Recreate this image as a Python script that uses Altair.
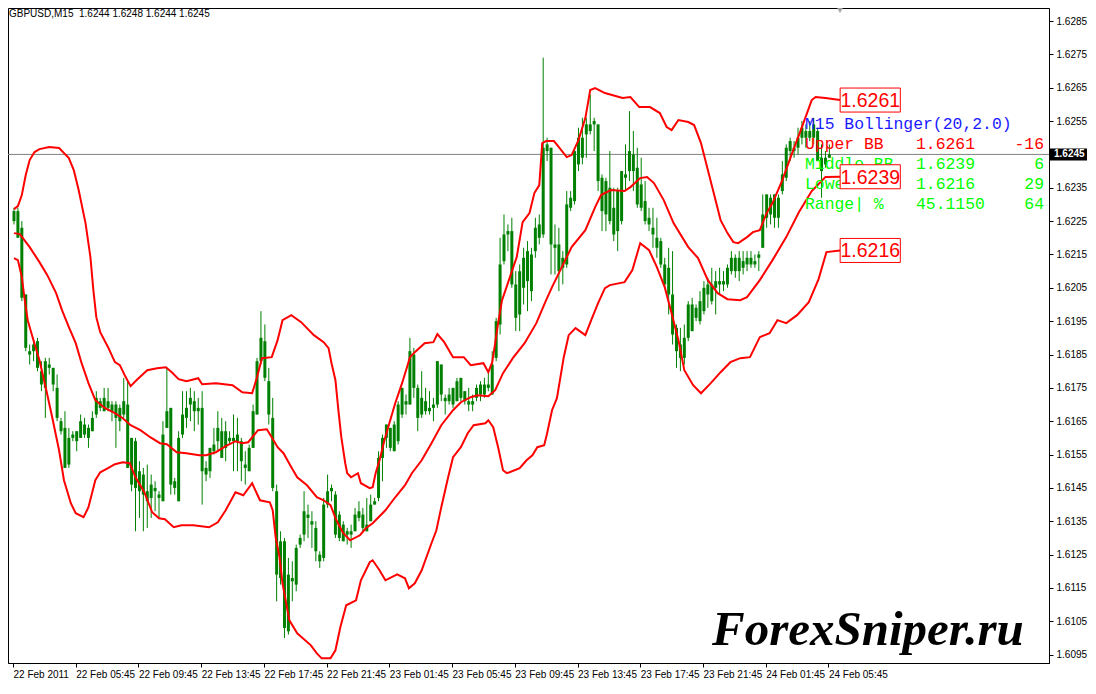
import altair as alt
import pandas as pd

# ---------------- data (prices) ----------------
open_ = [
1.6228,1.6228,1.6223,1.6203,1.6185,1.6188,1.6189,1.6176,1.6175,1.6182,
1.6181,1.6175,1.6165,1.6163,1.6152,1.6160,1.6159,1.6160,1.6164,1.6160,
1.6162,1.6167,1.6169,1.6172,1.6171,1.6170,1.6170,1.6165,1.6171,1.6170,
1.6160,1.6159,1.6150,1.6149,1.6141,1.6142,1.6145,1.6142,1.6141,1.6168,
1.6169,1.6145,1.6141,1.6161,1.6166,1.6172,1.6171,1.6169,1.6169,1.6149,
1.6150,1.6156,1.6163,1.6154,1.6157,1.6159,1.6159,1.6161,1.6159,1.6151,
1.6150,1.6157,1.6167,1.6190,1.6189,1.6177,1.6166,1.6144,1.6129,1.6129,
1.6102,1.6117,1.6116,1.6128,1.6131,1.6137,1.6135,1.6133,1.6123,1.6124,
1.6140,1.6145,1.6143,1.6137,1.6129,1.6131,1.6131,1.6132,1.6138,1.6137,
1.6132,1.6135,1.6140,1.6142,1.6154,1.6164,1.6163,1.6156,1.6159,1.6175,
1.6170,1.6170,1.6185,1.6175,1.6172,1.6171,1.6168,1.6169,1.6170,1.6182,
1.6171,1.6171,1.6170,1.6171,1.6178,1.6174,1.6171,1.6170,1.6172,1.6173,
1.6173,1.6175,1.6173,1.6184,1.6194,1.6213,1.6222,1.6222,1.6196,1.6197,
1.6205,1.6216,1.6204,1.6216,1.6220,1.6221,1.6248,1.6247,1.6218,1.6218,
1.6211,1.6212,1.6229,1.6231,1.6242,1.6244,1.6251,1.6252,1.6255,1.6254,
1.6238,1.6237,1.6235,1.6221,1.6222,1.6225,1.6238,1.6246,1.6245,1.6241,
1.6236,1.6231,1.6226,1.6223,1.6220,1.6219,1.6212,1.6211,1.6203,1.6193,
1.6184,1.6184,1.6190,1.6192,1.6196,1.6195,1.6198,1.6206,1.6201,1.6205,
1.6206,1.6206,1.6206,1.6210,1.6210,1.6214,1.6211,1.6212,1.6214,1.6212,
1.6214,1.6217,1.6226,1.6232,1.6233,1.6226,1.6234,1.6238,1.6249,1.6246,
1.6247,1.6253,1.6252,1.6250,1.6254,1.6252,1.6240,1.6242,1.6244]

high = [
1.6229,1.6229,1.6225,1.6203,1.6188,1.6190,1.6190,1.6183,1.6184,1.6184,
1.6181,1.6179,1.6166,1.6168,1.6163,1.6162,1.6162,1.6167,1.6166,1.6164,
1.6168,1.6174,1.6172,1.6175,1.6175,1.6171,1.6171,1.6170,1.6178,1.6177,
1.6160,1.6160,1.6153,1.6151,1.6152,1.6149,1.6147,1.6144,1.6165,1.6181,
1.6169,1.6148,1.6162,1.6174,1.6174,1.6175,1.6174,1.6172,1.6174,1.6153,
1.6157,1.6163,1.6168,1.6166,1.6165,1.6162,1.6167,1.6166,1.6160,1.6156,
1.6158,1.6170,1.6184,1.6198,1.6194,1.6181,1.6172,1.6146,1.6132,1.6130,
1.6124,1.6123,1.6128,1.6131,1.6144,1.6140,1.6138,1.6135,1.6126,1.6142,
1.6149,1.6146,1.6144,1.6138,1.6135,1.6133,1.6134,1.6139,1.6141,1.6139,
1.6142,1.6143,1.6142,1.6156,1.6161,1.6164,1.6163,1.6165,1.6171,1.6175,
1.6173,1.6190,1.6187,1.6176,1.6180,1.6175,1.6174,1.6172,1.6183,1.6182,
1.6173,1.6175,1.6175,1.6178,1.6178,1.6174,1.6175,1.6173,1.6176,1.6177,
1.6178,1.6180,1.6186,1.6196,1.6220,1.6227,1.6224,1.6226,1.6210,1.6212,
1.6217,1.6219,1.6217,1.6226,1.6227,1.6274,1.6250,1.6247,1.6224,1.6223,
1.6216,1.6234,1.6234,1.6247,1.6253,1.6256,1.6256,1.6263,1.6256,1.6254,
1.6239,1.6238,1.6246,1.6235,1.6235,1.6240,1.6248,1.6258,1.6252,1.6247,
1.6244,1.6237,1.6229,1.6229,1.6226,1.6220,1.6214,1.6217,1.6216,1.6194,
1.6193,1.6194,1.6201,1.6202,1.6200,1.6204,1.6207,1.6208,1.6211,1.6210,
1.6211,1.6210,1.6212,1.6216,1.6215,1.6216,1.6216,1.6216,1.6216,1.6215,
1.6216,1.6233,1.6233,1.6233,1.6233,1.6233,1.6243,1.6248,1.6250,1.6249,
1.6253,1.6255,1.6254,1.6255,1.6256,1.6253,1.6248,1.6246,1.6248]

low = [
1.6224,1.6220,1.6201,1.6186,1.6182,1.6183,1.6180,1.6174,1.6166,1.6179,
1.6174,1.6165,1.6161,1.6151,1.6151,1.6159,1.6156,1.6160,1.6160,1.6157,
1.6162,1.6166,1.6168,1.6168,1.6168,1.6165,1.6157,1.6162,1.6166,1.6151,
1.6144,1.6132,1.6136,1.6132,1.6133,1.6136,1.6138,1.6136,1.6141,1.6163,
1.6143,1.6143,1.6141,1.6160,1.6163,1.6165,1.6162,1.6164,1.6140,1.6147,
1.6148,1.6155,1.6156,1.6154,1.6153,1.6158,1.6150,1.6150,1.6147,1.6146,
1.6150,1.6157,1.6167,1.6182,1.6177,1.6164,1.6144,1.6111,1.6116,1.6100,
1.6101,1.6111,1.6114,1.6127,1.6129,1.6130,1.6127,1.6123,1.6121,1.6123,
1.6139,1.6141,1.6130,1.6129,1.6129,1.6128,1.6127,1.6132,1.6135,1.6132,
1.6132,1.6135,1.6140,1.6141,1.6147,1.6157,1.6156,1.6156,1.6158,1.6166,
1.6167,1.6170,1.6172,1.6162,1.6166,1.6167,1.6167,1.6165,1.6169,1.6171,
1.6167,1.6170,1.6169,1.6171,1.6171,1.6170,1.6168,1.6168,1.6171,1.6171,
1.6172,1.6174,1.6173,1.6183,1.6191,1.6212,1.6216,1.6205,1.6192,1.6192,
1.6200,1.6198,1.6201,1.6214,1.6218,1.6220,1.6243,1.6209,1.6209,1.6204,
1.6206,1.6211,1.6228,1.6230,1.6240,1.6242,1.6244,1.6251,1.6246,1.6234,
1.6222,1.6222,1.6224,1.6219,1.6216,1.6224,1.6234,1.6237,1.6234,1.6229,
1.6228,1.6224,1.6222,1.6217,1.6214,1.6211,1.6205,1.6197,1.6188,1.6181,
1.6180,1.6182,1.6189,1.6192,1.6195,1.6194,1.6197,1.6199,1.6200,1.6197,
1.6203,1.6204,1.6205,1.6209,1.6208,1.6207,1.6209,1.6210,1.6211,1.6211,
1.6210,1.6217,1.6223,1.6224,1.6223,1.6223,1.6233,1.6237,1.6243,1.6244,
1.6245,1.6248,1.6247,1.6249,1.6248,1.6243,1.6232,1.6241,1.6244]

close = [
1.6225,1.6220,1.6202,1.6187,1.6186,1.6186,1.6181,1.6180,1.6183,1.6181,
1.6176,1.6166,1.6162,1.6151,1.6160,1.6161,1.6162,1.6165,1.6161,1.6163,
1.6166,1.6172,1.6171,1.6168,1.6169,1.6168,1.6166,1.6169,1.6167,1.6151,
1.6146,1.6145,1.6144,1.6143,1.6144,1.6146,1.6144,1.6143,1.6161,1.6163,
1.6146,1.6147,1.6160,1.6167,1.6169,1.6170,1.6168,1.6168,1.6150,1.6151,
1.6157,1.6158,1.6159,1.6162,1.6162,1.6160,1.6160,1.6159,1.6153,1.6152,
1.6157,1.6168,1.6183,1.6183,1.6178,1.6167,1.6145,1.6119,1.6118,1.6103,
1.6119,1.6118,1.6127,1.6130,1.6138,1.6136,1.6134,1.6126,1.6125,1.6140,
1.6144,1.6144,1.6131,1.6130,1.6134,1.6132,1.6132,1.6137,1.6136,1.6133,
1.6134,1.6140,1.6141,1.6154,1.6160,1.6160,1.6157,1.6164,1.6170,1.6167,
1.6171,1.6186,1.6175,1.6166,1.6167,1.6168,1.6169,1.6170,1.6183,1.6173,
1.6172,1.6173,1.6175,1.6177,1.6172,1.6171,1.6170,1.6171,1.6175,1.6176,
1.6176,1.6176,1.6182,1.6195,1.6212,1.6221,1.6221,1.6206,1.6206,1.6210,
1.6214,1.6207,1.6215,1.6223,1.6224,1.6247,1.6246,1.6218,1.6217,1.6210,
1.6214,1.6230,1.6232,1.6246,1.6250,1.6250,1.6254,1.6254,1.6254,1.6237,
1.6228,1.6227,1.6225,1.6229,1.6234,1.6240,1.6239,1.6240,1.6240,1.6230,
1.6229,1.6225,1.6224,1.6221,1.6217,1.6212,1.6206,1.6203,1.6191,1.6186,
1.6188,1.6190,1.6200,1.6200,1.6199,1.6201,1.6205,1.6203,1.6206,1.6207,
1.6207,1.6207,1.6211,1.6214,1.6214,1.6210,1.6213,1.6214,1.6212,1.6213,
1.6215,1.6227,1.6233,1.6227,1.6226,1.6232,1.6239,1.6247,1.6246,1.6247,
1.6250,1.6250,1.6250,1.6252,1.6250,1.6243,1.6244,1.6244,1.6245]

# Bollinger bands (bar index, price)
upper_bar = [0,1,2,3,4,5.25,6.5,9,11.5,14,15.25,16.5,18.25,19.5,20.25,21,22,24,25.75,27,
    28.25,29.75,31.5,34,36.5,38.75,40.25,42,44,47,48,51.5,55.75,58.25,60.75,62,63.25,65.75,67.25,68.5,
    70.75,73.25,76.5,79,80.25,81,82,82.75,83.5,84.5,85,86,87.75,88.5,90.75,91.5,92.25,93.25,94.5,95.75,
    97.25,99,100.25,101,102.25,104.75,107,108,109.75,112,114.75,116.5,119.75,121,122,122.75,123.5,124.5,128.25,129.75,
    131.5,132.75,134,134.75,135.75,137.75,139,141,142.25,144,145.75,147,148.25,150.75,155.25,157.25,159.5,162.25,164.75,166.5,
    167.75,169.5,172,173.5,175.25,177,178.5,180.25,182,183.5,184.75,187,188.5,190.25,192,193.5,196,198.5,201,203.5,
    204.5,207,210.75]
upper_val = [1.62286,1.62295,1.62328,1.62388,1.62433,1.62457,1.62466,1.62472,1.62469,1.62439,1.62403,1.62343,1.62244,1.62142,1.62043,1.61962,1.61917,1.61872,1.61827,1.61818,
    1.61788,1.61755,1.61776,1.61803,1.61809,1.61812,1.61797,1.61776,1.61770,1.61779,1.61761,1.61764,1.61758,1.61737,1.61734,1.61782,1.61839,1.61842,1.61893,1.61953,
    1.61968,1.61947,1.61908,1.61887,1.61869,1.61824,1.61773,1.61683,1.61602,1.61524,1.61494,1.61482,1.61494,1.61464,1.61449,1.61452,1.61494,1.61533,1.61593,1.61644,
    1.61704,1.61764,1.61812,1.61842,1.61857,1.61884,1.61887,1.61911,1.61887,1.61842,1.61842,1.61818,1.61824,1.61797,1.61827,1.61884,1.61944,1.62013,1.62142,1.62247,
    1.62274,1.62334,1.62358,1.62484,1.62490,1.62490,1.62472,1.62442,1.62448,1.62493,1.62559,1.62643,1.62649,1.62634,1.62619,1.62622,1.62592,1.62592,1.62574,1.62532,
    1.62523,1.62553,1.62547,1.62538,1.62484,1.62403,1.62334,1.62253,1.62214,1.62187,1.62184,1.62202,1.62217,1.62223,1.62274,1.62304,1.62373,1.62454,1.62532,1.62613,
    1.62622,1.62619,1.62613]

middle_bar = [0,1.5,4,6.5,8.5,10.75,12.25,14,15.75,17.25,19,20.75,23.25,25.75,27.75,29.75,32.25,34.75,37.25,39,
    41.5,44,47.25,49,51.5,54,56.5,58.25,59.75,62.25,64.5,65.75,67.25,68.75,70.75,72.25,74.75,77.25,79,80.75,
    82.25,84,85.75,88.25,89.75,91.5,94.75,97.25,99.75,101.5,104,106.5,109,112,114,116.5,118.25,121,122.75,124.75,
    127.25,130.25,133.25,135.75,137.25,139.75,142.25,145.75,148.25,149.75,152.25,155.75,157.25,159.75,161.5,163.25,165.75,168.25,172,174.5,
    177,179.5,182,185.25,187,190.25,193.5,197,200.25,203.5,207,210.75]
middle_val = [1.62214,1.62211,1.62172,1.62127,1.62088,1.62034,1.61983,1.61932,1.61884,1.61824,1.61764,1.61713,1.61689,1.61674,1.61659,1.61638,1.61623,1.61602,1.61584,1.61581,
    1.61557,1.61554,1.61548,1.61548,1.61557,1.61575,1.61590,1.61584,1.61587,1.61623,1.61626,1.61602,1.61572,1.61554,1.61512,1.61482,1.61458,1.61422,1.61413,1.61398,
    1.61353,1.61314,1.61293,1.61308,1.61329,1.61344,1.61383,1.61422,1.61458,1.61494,1.61533,1.61584,1.61638,1.61683,1.61707,1.61722,1.61728,1.61725,1.61743,1.61794,
    1.61839,1.61884,1.61944,1.62013,1.62052,1.62112,1.62172,1.62223,1.62292,1.62328,1.62343,1.62340,1.62352,1.62379,1.62382,1.62364,1.62313,1.62244,1.62172,1.62139,
    1.62073,1.62034,1.62016,1.62013,1.62022,1.62073,1.62133,1.62202,1.62277,1.62340,1.62382,1.62383]

lower_bar = [0,1,2,2.75,3.5,4.75,6.5,8.25,9.75,11.5,12.75,14.5,15.75,17.75,19,20.75,22,24,25.75,27.75,
    29.5,31,33.25,35.25,37,38.5,40.75,42.75,45.75,49.75,52,54,56.5,58.5,60.75,62.75,65.25,66,66.75,67.75,
    68.5,70.25,72.25,75.75,77.25,78.5,80.75,82,83.25,84.75,87.25,88.5,90.75,91.5,93.25,94.75,97.75,99.75,100.75,102.25,
    104,106.5,107.75,109,110.75,112,114,115.75,117.25,120.25,121,122.25,123.5,124.75,125.75,129,130.75,132.25,133.5,135.25,
    136,137.25,138.5,140.25,141.5,143.25,145.75,147.25,149,150.75,152,155.75,157.75,159.75,162,164,166,167.75,169.5,171,
    173.25,175.25,177.75,180.25,182.75,185.25,187.75,190.25,192.75,194.75,197,199.75,202.75,205.25,207.25,210.75]
lower_val = [1.62139,1.62133,1.62082,1.62013,1.61953,1.61902,1.61833,1.61743,1.61662,1.61563,1.61473,1.61404,1.61374,1.61362,1.61392,1.61473,1.61497,1.61509,1.61521,1.61527,
    1.61524,1.61482,1.61437,1.61377,1.61359,1.61356,1.61332,1.61338,1.61338,1.61332,1.61347,1.61383,1.61437,1.61428,1.61464,1.61413,1.61407,1.61383,1.61302,1.61242,
    1.61164,1.61053,1.61014,1.60978,1.60954,1.60939,1.60939,1.60963,1.61032,1.61098,1.61113,1.61173,1.61227,1.61233,1.61203,1.61173,1.61191,1.61179,1.61149,1.61164,
    1.61203,1.61284,1.61323,1.61392,1.61482,1.61542,1.61572,1.61614,1.61638,1.61644,1.61653,1.61632,1.61572,1.61503,1.61494,1.61509,1.61533,1.61548,1.61572,1.61578,
    1.61614,1.61683,1.61719,1.61842,1.61908,1.61929,1.61908,1.61953,1.62004,1.62049,1.62058,1.62067,1.62103,1.62184,1.62163,1.62112,1.62052,1.61974,1.61893,1.61803,
    1.61758,1.61734,1.61764,1.61797,1.61827,1.61839,1.61842,1.61902,1.61914,1.61953,1.61944,1.61968,1.62007,1.62076,1.62157,1.62162]

x_tick_bars = [-0.25, 15.75, 31.75, 47.75, 63.75, 79.75, 95.75, 111.75, 127.75, 143.75, 159.75, 175.75, 191.75, 207.75]
x_tick_labels = ["22 Feb 2011", "22 Feb 05:45", "22 Feb 09:45", "22 Feb 13:45", "22 Feb 17:45",
                 "22 Feb 21:45", "23 Feb 01:45", "23 Feb 05:45", "23 Feb 09:45", "23 Feb 13:45",
                 "23 Feb 17:45", "23 Feb 21:45", "24 Feb 01:45", "24 Feb 05:45"]
y_ticks = [1.6095, 1.6105, 1.6115, 1.6125, 1.6135, 1.6145, 1.6155, 1.6165, 1.6175, 1.6185,
           1.6195, 1.6205, 1.6215, 1.6225, 1.6235, 1.6245, 1.6255, 1.6265, 1.6275, 1.6285]

current_price = 1.6245
band_label_prices = [1.62613, 1.62383, 1.62162]
band_label_texts = ["1.6261", "1.6239", "1.6216"]

info_rows = [
    ("M15 Bollinger(20,2.0)", "", "", "#1a1aff"),
    ("Upper BB", "1.6261", "-16", "#ff0000"),
    ("Middle BB", "1.6239", "6", "#00ff00"),
    ("Lower BB", "1.6216", "29", "#00ff00"),
    ("Range| %", "45.1150", "64", "#00ff00"),
]

# ---------------- chart ----------------
GREEN = "#008000"
candles = pd.DataFrame({"bar": list(range(len(close))), "open": open_, "high": high,
                        "low": low, "close": close})

bands = pd.concat([
    pd.DataFrame({"bar": upper_bar, "val": upper_val, "band": "upper"}),
    pd.DataFrame({"bar": middle_bar, "val": middle_val, "band": "middle"}),
    pd.DataFrame({"bar": lower_bar, "val": lower_val, "band": "lower"}),
], ignore_index=True)

x_scale = alt.Scale(domain=[-0.25, 262.75], nice=False, zero=False)
y_scale = alt.Scale(domain=[1.60925, 1.62889], nice=False, zero=False)

label_js = "[" + ",".join("'" + s + "'" for s in x_tick_labels) + "]"
x_axis = alt.Axis(values=x_tick_bars, labelExpr=label_js + "[round((datum.value + 0.25) / 16)]",
                  labelAlign="left", labelBaseline="top", labelPadding=2, tickSize=4,
                  labelFont="Liberation Sans", labelFontSize=10, labelColor="black",
                  tickColor="black", domainColor="black", grid=False, title=None,
                  labelFlush=False, labelOverlap=False, labelBound=False)
# the current-price tag replaces the axis label at that level
y_axis = alt.Axis(orient="right", values=y_ticks,
                  labelExpr=f"abs(datum.value - {current_price}) < 0.00001 ? '' : format(datum.value, '.4f')",
                  labelPadding=3, tickSize=4,
                  labelFont="Liberation Sans", labelFontSize=10, labelColor="black",
                  tickColor="black", domainColor="black", grid=False, title=None,
                  labelOverlap=False, labelFlush=False, labelBound=False)

# every layer shares the same scales and the same axis definitions
XS = dict(scale=x_scale, axis=x_axis)
YS = dict(scale=y_scale, axis=y_axis)

base = alt.Chart(candles)

price_line = alt.Chart(pd.DataFrame({"p": [current_price]})).mark_rule(
    color="#808080", strokeWidth=1).encode(y=alt.Y("p:Q", **YS))

wicks = base.mark_rule(color=GREEN, strokeWidth=1).encode(
    x=alt.X("bar:Q", **XS), y=alt.Y("low:Q", **YS), y2="high:Q")

bodies = base.mark_bar(color=GREEN, size=3).encode(
    x=alt.X("bar:Q", **XS), y=alt.Y("open:Q", **YS), y2="close:Q")

band_lines = alt.Chart(bands).mark_line(color="#ff0000", strokeWidth=2).encode(
    x=alt.X("bar:Q", **XS), y=alt.Y("val:Q", **YS),
    detail="band:N", order="bar:Q")

one = pd.DataFrame({"d": [0]})

def txt(text, x, y, color, size, font, align="left", baseline="middle", weight="normal", style="normal"):
    return alt.Chart(one).mark_text(text=text, color=color, fontSize=size, font=font,
                                    align=align, baseline=baseline, fontWeight=weight,
                                    fontStyle=style).encode(x=alt.value(x), y=alt.value(y))

layers = [price_line, wicks, bodies, band_lines]

# header
header = "GBPUSD,M15\u00a0 " + " ".join(f"{v:.4f}" for v in (open_[-1], high[-1], low[-1], close[-1]))
layers.append(txt(header, 1, 6, "black", 10, "Liberation Sans"))

# info panel
for k, (a, b, c, col) in enumerate(info_rows):
    yy = 115.5 + 20.2 * k
    layers.append(txt(a, 797, yy, col, 16.4, "Liberation Mono"))
    if b:
        layers.append(txt(b, 908, yy, col, 16.4, "Liberation Mono"))
    if c:
        layers.append(txt(c, 1036, yy, col, 16.4, "Liberation Mono", align="right"))

# boxed band labels
lab = pd.DataFrame({"price": band_label_prices, "label": band_label_texts})
boxes = alt.Chart(lab).transform_calculate(
    top="datum.price + 0.00036", bot="datum.price - 0.00036",
    left="210.75", right="226.1").mark_rect(
    fill="white", stroke="#ff0000", strokeWidth=1).encode(
    x=alt.X("left:Q", **XS), x2="right:Q",
    y=alt.Y("top:Q", **YS), y2="bot:Q")
box_text = alt.Chart(lab).transform_calculate(mid="218.45").mark_text(
    color="#ff0000", fontSize=19.5, align="center", baseline="middle", dy=1,
    font="Liberation Sans").encode(
    x=alt.X("mid:Q", **XS), y=alt.Y("price:Q", **YS), text="label:N")
layers += [boxes, box_text]

# current price tag on the axis
cp = pd.DataFrame({"p": [current_price], "t": [f"{current_price:.4f}"]})
cp_box = alt.Chart(cp).transform_calculate(
    top="datum.p + 0.00018", bot="datum.p - 0.00018").mark_rect(color="black").encode(
    x=alt.value(1041), x2=alt.value(1079), y=alt.Y("top:Q", **YS), y2="bot:Q")
cp_text = alt.Chart(cp).mark_text(color="white", fontSize=10, align="left", baseline="middle",
                                  font="Liberation Sans", fontWeight="bold").encode(
    x=alt.value(1046), y=alt.Y("p:Q", **YS), text="t:N")
layers += [cp_box, cp_text]

# chart-shift marker and watermark
marker = alt.Chart(one).mark_point(shape="triangle-down", filled=True, color="#a0a0a0",
                                   size=45, opacity=1).encode(x=alt.value(832), y=alt.value(2))
layers.append(marker)
layers.append(txt("ForexSniper.ru", 704, 637, "black", 49, "Liberation Serif",
                  baseline="alphabetic", weight="bold", style="italic"))

chart = alt.layer(*layers).properties(
    width=1041, height=655,
    padding={"left": 0, "top": 0, "right": 39, "bottom": 17},
    autosize=alt.AutoSizeParams(type="none"),
    background="white",
).configure_view(stroke="black", strokeWidth=1).configure_axis(labelOverlap=False)

chart.save("out.html", embed_options={"renderer": "svg", "actions": False})
